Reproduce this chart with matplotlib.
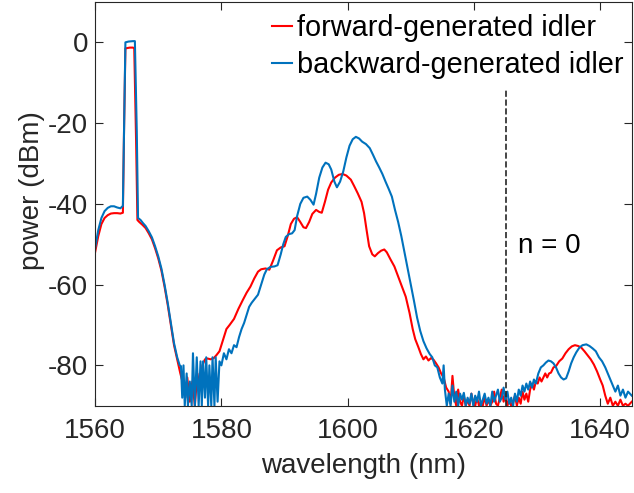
import matplotlib
matplotlib.use('Agg')
import matplotlib.pyplot as plt

plt.rcParams['font.family'] = ['Liberation Sans', 'DejaVu Sans']
plt.rcParams['axes.unicode_minus'] = False

# forward-generated idler (red)
wl_fwd = [1560.0, 1560.5, 1561.0, 1561.5, 1562.0, 1562.5, 1563.0, 1563.5, 1564.0, 1564.4,
          1564.6, 1564.8, 1565.5, 1566.0, 1566.2, 1566.5, 1566.7, 1567.0, 1567.5, 1568.0,
          1568.5, 1569.0, 1569.5, 1570.0, 1570.5, 1571.0, 1571.5, 1572.0, 1572.5, 1573.0,
          1573.5, 1574.0, 1574.3, 1574.6, 1575.0, 1575.4, 1575.8, 1576.2, 1576.6, 1577.0,
          1577.4, 1577.8, 1578.3, 1578.8, 1579.2, 1579.7, 1580.2, 1580.8, 1581.3, 1582.0,
          1582.7, 1583.4, 1584.0, 1584.6, 1585.2, 1585.8, 1586.3, 1587.0, 1587.6, 1588.2,
          1588.8, 1589.4, 1590.0, 1590.5, 1591.0, 1591.5, 1592.0, 1592.5, 1593.0, 1593.4,
          1593.9, 1594.4, 1595.0, 1595.5, 1595.9, 1596.4, 1596.9, 1597.4, 1598.0, 1598.6,
          1599.2, 1599.8, 1600.5, 1601.0, 1601.6, 1602.2, 1602.6, 1603.0, 1603.4, 1603.9,
          1604.3, 1604.8, 1605.3, 1605.8, 1606.2, 1606.8, 1607.4, 1608.0, 1608.6, 1609.2,
          1609.8, 1610.3, 1610.7, 1611.2, 1611.6, 1612.0, 1612.4, 1612.8, 1613.2, 1613.6,
          1614.0, 1614.4, 1614.8, 1615.2, 1615.6, 1616.0, 1616.3, 1616.6, 1616.9, 1617.2,
          1617.5, 1617.8, 1618.1, 1618.4, 1618.7, 1619.0, 1619.3, 1619.6, 1619.9, 1620.2,
          1620.5, 1620.8, 1621.1, 1621.4, 1621.7, 1622.0, 1622.3, 1622.6, 1622.9, 1623.2,
          1623.5, 1623.8, 1624.1, 1624.4, 1624.7, 1625.0, 1625.3, 1625.6, 1625.9, 1626.2,
          1626.5, 1626.8, 1627.1, 1627.4, 1627.7, 1628.0, 1628.3, 1628.6, 1628.9, 1629.2,
          1629.5, 1629.8, 1630.1, 1630.4, 1630.7, 1631.0, 1631.3, 1631.6, 1631.9, 1632.2,
          1632.6, 1633.0, 1633.5, 1634.0, 1634.5, 1635.0, 1635.5, 1636.0, 1636.5, 1637.0,
          1637.5, 1638.0, 1638.5, 1639.0, 1639.5, 1640.0, 1640.4, 1640.8, 1641.2, 1641.6,
          1642.0, 1642.4, 1642.8, 1643.2, 1643.6, 1644.0, 1644.4, 1645.0]
p_fwd = [-52, -48, -45, -43.5, -42.8, -42.4, -42.3, -42.3, -42.4, -42.2,
         -20, -1.5, -1.3, -1.3, -1.5, -25, -44, -44.5, -45.2, -46.0,
         -47.3, -48.8, -51.0, -53.5, -56.5, -60.5, -65, -70, -75, -78.5,
         -82, -85, -88, -83, -89, -84, -90, -82, -86, -80,
         -78.5, -78.3, -78.5, -78.2, -77.5, -76.5, -74, -71, -70, -68.5,
         -66, -63.8, -62, -60.5, -58.5, -56.8, -56.2, -56.0, -56.3, -54,
         -51.5, -50.8, -50.5, -48, -45, -43.7, -43.3, -44.5, -45.8, -46.0,
         -44.5, -42.5, -41.5, -42.0, -42.2, -39.5, -36.5, -34.7, -33.5, -32.8,
         -32.6, -33.0, -34.0, -35.5, -37.4, -39.5, -42.3, -46.5, -50.5, -52.5,
         -53, -52.2, -51.6, -51.3, -52, -53.8, -55.5, -58, -60.5, -63,
         -67, -71, -73.5, -75.5, -77.2, -78.5, -77.8, -78.8, -78.2, -78.6,
         -79.5, -80.5, -82, -83, -85.5, -86.5, -89.5, -82.6, -88, -90,
         -86, -89, -90, -87.5, -90, -88.5, -90, -87, -89.5, -90,
         -88, -90, -89, -90, -87.8, -90, -88.5, -90, -89, -86.5,
         -89.5, -90, -88, -86, -89, -87, -90, -88.5, -90, -89,
         -87.5, -90, -88, -89.5, -86.5, -88.5, -87, -89, -86, -84.5,
         -86, -84, -84.5, -83, -84, -83, -82, -83, -82, -81.8,
         -80.5, -80.2, -79, -78.3, -77, -76, -75.3, -75, -75.2, -75.6,
         -76.5, -77.5, -78.5, -79.8, -81.5, -83.5, -85, -87.5, -89.5, -88,
         -90, -89, -90, -88.5, -90, -89.5, -90, -89]

# backward-generated idler (blue)
wl_bwd = [1560.0, 1560.5, 1561.0, 1561.5, 1562.0, 1562.5, 1563.0, 1563.5, 1564.0, 1564.4,
          1564.6, 1564.8, 1565.3, 1566.0, 1566.3, 1566.6, 1566.8, 1567.2, 1567.6, 1568.0,
          1568.5, 1569.0, 1569.5, 1570.0, 1570.5, 1571.0, 1571.5, 1572.0, 1572.5, 1573.0,
          1573.4, 1573.6, 1573.8, 1574.0, 1574.2, 1574.5, 1574.7, 1575.0, 1575.3, 1575.5,
          1575.8, 1576.1, 1576.4, 1576.7, 1576.9, 1577.1, 1577.4, 1577.6, 1577.9, 1578.1,
          1578.4, 1578.6, 1578.9, 1579.1, 1579.4, 1579.7, 1580.0, 1580.4, 1580.8, 1581.2,
          1581.6, 1582.0, 1582.4, 1582.8, 1583.2, 1583.6, 1584.0, 1584.4, 1584.8, 1585.3,
          1585.8, 1586.3, 1586.8, 1587.2, 1587.8, 1588.4, 1588.9, 1589.4, 1589.8, 1590.2,
          1590.7, 1591.2, 1591.6, 1592.0, 1592.5, 1593.0, 1593.6, 1594.1, 1594.6, 1595.0,
          1595.5, 1596.0, 1596.5, 1597.0, 1597.4, 1597.9, 1598.3, 1598.8, 1599.3, 1599.8,
          1600.3, 1600.8, 1601.3, 1601.8, 1602.3, 1602.9, 1603.5, 1604.0, 1604.5, 1605.0,
          1605.5, 1606.0, 1606.5, 1607.0, 1607.5, 1608.0, 1608.5, 1609.0, 1609.5, 1610.0,
          1610.5, 1611.0, 1611.5, 1612.0, 1612.5, 1613.0, 1613.4, 1613.8, 1614.2, 1614.6,
          1615.0, 1615.2, 1615.4, 1615.7, 1616.0, 1616.3, 1616.6, 1616.9, 1617.2, 1617.5,
          1617.8, 1618.1, 1618.4, 1618.7, 1619.0, 1619.3, 1619.6, 1619.9, 1620.2, 1620.5,
          1620.8, 1621.1, 1621.4, 1621.7, 1622.0, 1622.3, 1622.6, 1622.9, 1623.2, 1623.5,
          1623.8, 1624.1, 1624.4, 1624.7, 1625.0, 1625.3, 1625.6, 1625.9, 1626.2, 1626.5,
          1626.8, 1627.1, 1627.4, 1627.7, 1628.0, 1628.3, 1628.6, 1628.9, 1629.2, 1629.5,
          1629.8, 1630.2, 1630.6, 1631.0, 1631.4, 1631.8, 1632.2, 1632.6, 1633.0, 1633.4,
          1633.8, 1634.2, 1634.6, 1635.0, 1635.4, 1635.8, 1636.2, 1636.7, 1637.2, 1637.8,
          1638.3, 1638.8, 1639.3, 1639.8, 1640.3, 1640.8, 1641.2, 1641.6, 1642.0, 1642.4,
          1642.8, 1643.2, 1643.6, 1644.0, 1644.4, 1645.0]
p_bwd = [-51, -46.5, -43.5, -41.8, -41.0, -40.6, -40.6, -40.9, -41.1, -40.5,
         -20, 0.0, 0.2, 0.3, 0.3, -22, -43.5, -44.0, -44.8, -45.5,
         -46.8, -48.3, -50.5, -53.0, -56, -60, -64.5, -69.5, -74.5, -78,
         -80, -80.2, -88, -80, -90, -82, -90, -84, -90, -77,
         -90, -78, -90, -79, -90, -79, -88, -78, -90, -80,
         -90, -78, -90, -78, -89, -79, -80, -77, -78.5, -76,
         -77, -75, -75.5, -73, -71, -69.5, -67.5, -65.5, -64.5, -63.5,
         -62.5, -60, -57.5, -56.2, -55.6, -55.5, -55.2, -52.5, -50, -48.2,
         -47.5, -47.3, -46.5, -43, -40, -38.5, -38.2, -39.0, -40.2, -37.5,
         -33.5, -31, -29.8, -30.2, -31.5, -34.5, -35.9, -34.5, -32, -28.5,
         -25.6, -24, -23.4, -23.8, -24.6, -25.2, -26.2, -27.8, -29.5, -31,
         -32.6, -34.5, -36.3, -38.2, -41.5, -44.5, -48, -52, -56, -60,
         -64, -68.2, -71.5, -74, -75.8, -77.2, -78, -80, -80.5, -83,
         -84.5, -80, -86, -90, -87, -90, -85, -89, -86.5, -90,
         -87, -88.5, -86.8, -90, -88, -89.5, -87, -90, -87.5, -89,
         -86.5, -90, -88.5, -87, -89.5, -88, -90, -86.5, -89, -87.5,
         -86, -89, -88, -85.5, -88.5, -86.5, -89.5, -88, -90, -87,
         -89, -86, -87.5, -85, -86.5, -84.5, -86, -84, -85.5, -83.5,
         -84.5, -82, -80.5, -80, -79.3, -78.8, -79, -79.5, -80.5, -82,
         -83, -83.5, -83.2, -81.5, -79.5, -78, -76.8, -75.6, -75, -74.8,
         -75.2, -75.8, -76.5, -78, -79, -80.5, -82, -83.5, -85, -86.5,
         -85, -87.5, -86, -88, -86.5, -87.5]

x_ticks = [1560, 1580, 1600, 1620, 1640]
y_ticks = [-80, -60, -40, -20, 0]
n0_wl = 1625

fig = plt.figure(figsize=(6.34, 4.93), dpi=100)
ax = fig.add_axes([0.150, 0.177, 0.8465, 0.819])

ax.plot(wl_fwd, p_fwd, color='#FF0000', lw=1.5, label='forward-generated idler')
ax.plot(wl_bwd, p_bwd, color='#0072BD', lw=1.5, label='backward-generated idler')
ax.plot([n0_wl, n0_wl], [-90, -11.5], color='#262626', ls='--', lw=1.2)
ax.text(1627, -50.5, 'n = 0', fontsize=20, va='center', ha='left')

ax.set_xlim(1560, 1645)
ax.set_ylim(-90, 10)
ax.set_xticks(x_ticks)
ax.set_yticks(y_ticks)
ax.tick_params(direction='in', top=True, right=True, length=6, width=0.8,
               labelsize=20, colors='#262626', pad=9)
ax.tick_params(axis='y', pad=5)
for s in ax.spines.values():
    s.set_color('#262626')
    s.set_linewidth(0.8)

ax.set_xlabel('wavelength (nm)', fontsize=20, color='#262626', labelpad=6)
ax.set_ylabel('power (dBm)', fontsize=20, color='#262626')
ax.yaxis.set_label_coords(-0.094, 0.534)

ax.legend(loc='upper right', bbox_to_anchor=(0.995, 0.985), frameon=False, fontsize=20.8,
          handlelength=0.7, handletextpad=0.15, labelspacing=0.32,
          borderpad=0.1, borderaxespad=0.1)

fig.savefig('out.png', dpi=100)
